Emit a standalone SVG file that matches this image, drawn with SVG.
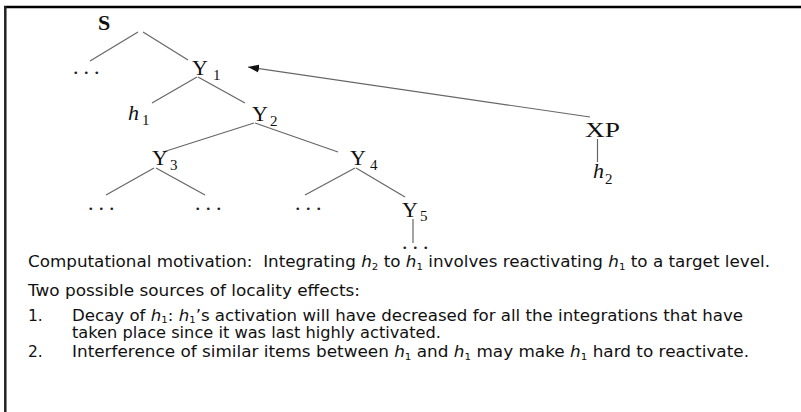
<svg xmlns="http://www.w3.org/2000/svg" width="801" height="412" viewBox="0 0 801 412">
<defs>
<style>
.lbl{font-family:"Liberation Serif","Times New Roman",serif;font-size:22px;fill:#111}
.sub{font-size:15px}
.dots{font-family:"Liberation Serif",serif;font-size:22px;fill:#222;letter-spacing:5px}
.it{font-style:italic}
.edge{stroke:#666;stroke-width:1.2;fill:none}
.body{font-family:"DejaVu Sans","Verdana",sans-serif;font-size:15.5px;fill:#111;white-space:pre}
.bsub{font-size:9.5px}
</style>
<marker id="ah" viewBox="0 0 10 10" refX="10" refY="5" markerWidth="11" markerHeight="9" markerUnits="userSpaceOnUse" orient="auto" preserveAspectRatio="none">
<path d="M0,0.5 L10,5 L0,9.5 Z" fill="#111"/>
</marker>
</defs>
<rect width="801" height="412" fill="#fff"/>
<g id="frame">
<line x1="4" y1="7" x2="801" y2="7" stroke="#000" stroke-width="2.5"/>
<line x1="5.3" y1="6" x2="5.3" y2="412" stroke="#222" stroke-width="2.5"/>
</g>
<g id="connectors">
<line class="edge" x1="138" y1="32" x2="90" y2="61"/>
<line class="edge" x1="143" y1="32" x2="188" y2="60"/>
<line class="edge" x1="197" y1="77" x2="152" y2="103"/>
<line class="edge" x1="198" y1="77" x2="245" y2="103"/>
<line class="edge" x1="254" y1="123" x2="163" y2="152"/>
<line class="edge" x1="255" y1="123" x2="338" y2="152"/>
<line class="edge" x1="154" y1="168" x2="106" y2="195"/>
<line class="edge" x1="156" y1="168" x2="205" y2="195"/>
<line class="edge" x1="355" y1="168" x2="305" y2="195"/>
<line class="edge" x1="356" y1="168" x2="405" y2="197"/>
<line class="edge" x1="413" y1="219" x2="413" y2="243"/>
<line class="edge" x1="597.5" y1="139" x2="597.5" y2="162"/>
<line class="edge" x1="590" y1="117" x2="248" y2="67" marker-end="url(#ah)"/>
</g>
<g id="node-S"><text class="lbl" x="104" y="30" text-anchor="middle" font-weight="bold">S</text></g>
<g id="node-dots1"><text class="dots" x="73" y="74">...</text></g>
<g id="node-Y1"><text class="lbl" x="192" y="75">Y<tspan class="sub" dx="5" dy="5">1</tspan></text></g>
<g id="node-h1"><text class="lbl" x="128" y="120"><tspan class="it">h</tspan><tspan class="sub" dx="3" dy="5">1</tspan></text></g>
<g id="node-Y2"><text class="lbl" x="252" y="121">Y<tspan class="sub" dx="2" dy="5">2</tspan></text></g>
<g id="node-Y3"><text class="lbl" x="152" y="165">Y<tspan class="sub" dx="2" dy="5">3</tspan></text></g>
<g id="node-Y4"><text class="lbl" x="350" y="165">Y<tspan class="sub" dx="4" dy="5">4</tspan></text></g>
<g id="node-Y5"><text class="lbl" x="402" y="217">Y<tspan class="sub" dx="2" dy="4">5</tspan></text></g>
<g id="node-dots2"><text class="dots" x="88" y="210">...</text></g>
<g id="node-dots3"><text class="dots" x="195" y="210">...</text></g>
<g id="node-dots4"><text class="dots" x="295" y="210">...</text></g>
<g id="node-dots5"><text class="dots" x="402" y="249">...</text></g>
<g id="node-XP"><text class="lbl" x="585" y="137" textLength="35" lengthAdjust="spacingAndGlyphs">XP</text></g>
<g id="node-h2"><text class="lbl" x="593" y="178"><tspan class="it">h</tspan><tspan class="sub" dx="1" dy="6">2</tspan></text></g>
<g id="notes">
<text class="body" x="28" y="267" textLength="742" lengthAdjust="spacingAndGlyphs">Computational motivation:  Integrating <tspan class="it">h</tspan><tspan class="bsub" dy="2.5">2</tspan><tspan dy="-2.5"> to </tspan><tspan class="it">h</tspan><tspan class="bsub" dy="2.5">1</tspan><tspan dy="-2.5"> involves reactivating </tspan><tspan class="it">h</tspan><tspan class="bsub" dy="2.5">1</tspan><tspan dy="-2.5"> to a target level.</tspan></text>
<text class="body" x="28" y="296" textLength="332" lengthAdjust="spacingAndGlyphs">Two possible sources of locality effects:</text>
<text class="body" x="28" y="321">1.</text>
<text class="body" x="72" y="321" textLength="671" lengthAdjust="spacingAndGlyphs">Decay of <tspan class="it">h</tspan><tspan class="bsub" dy="2">1</tspan><tspan dy="-2">: </tspan><tspan class="it">h</tspan><tspan class="bsub" dy="2">1</tspan><tspan dy="-2">’s activation will have decreased for all the integrations that have</tspan></text>
<text class="body" x="72" y="337.5" textLength="369" lengthAdjust="spacingAndGlyphs">taken place since it was last highly activated.</text>
<text class="body" x="28" y="357">2.</text>
<text class="body" x="72" y="357" textLength="677" lengthAdjust="spacingAndGlyphs">Interference of similar items between <tspan class="it">h</tspan><tspan class="bsub" dy="2.5">1</tspan><tspan dy="-2.5"> and </tspan><tspan class="it">h</tspan><tspan class="bsub" dy="2.5">1</tspan><tspan dy="-2.5"> may make </tspan><tspan class="it">h</tspan><tspan class="bsub" dy="2.5">1</tspan><tspan dy="-2.5"> hard to reactivate.</tspan></text>
</g>
</svg>
